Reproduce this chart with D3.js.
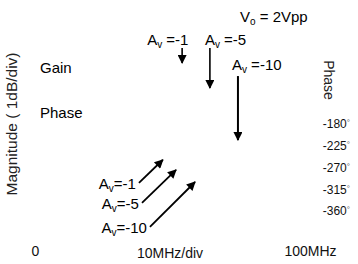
<!DOCTYPE html>
<html>
<head>
<meta charset="utf-8">
<script src="https://cdn.jsdelivr.net/npm/d3@7"></script>
<style>
  body { margin: 0; background: #fff; }
  svg { display: block; font-family: "Liberation Sans", Arial, sans-serif; }
  .axis text { fill: #111; }
</style>
</head>
<body>
<div id="chart"></div>
<script>
// tick values
const phaseTicks = [-180, -225, -270, -315, -360];
const freqTicks = [0, 100];
const freqTickLabels = ["0", "100MHz"];

// gain arrows (magnitude, dB) per closed-loop gain
const gainLabels = ["-1", "-5", "-10"];
const gainFreq = [53.5, 63.6, 73.8];
const gainFrom = [0, 0, -1.29];
const gainTo = [-0.74, -1.89, -4.28];

// phase arrows (degrees)
const phaseLabels = ["-1", "-5", "-10"];
const phaseFreqFrom = [37.8, 38.9, 41.8];
const phaseFreqTo = [46.5, 51.3, 58.2];
const phaseFrom = [-302, -343, -393];
const phaseTo = [-254, -275, -300];

const W = 358, H = 264;

const svg = d3.select("#chart").append("svg")
    .attr("width", W)
    .attr("height", H);

const x = d3.scaleLinear().domain([0, 100]).range([35, 310]);
const yPhase = d3.scaleLinear().domain([-360, -180]).range([211, 124]);
const yMag = d3.scaleLinear().domain([0, -1]).range([47, 68.75]);

svg.append("defs").append("marker")
    .attr("id", "head")
    .attr("viewBox", "0 0 10 10")
    .attr("refX", 9)
    .attr("refY", 5)
    .attr("markerUnits", "userSpaceOnUse")
    .attr("markerWidth", 12)
    .attr("markerHeight", 9)
    .attr("orient", "auto")
    .append("path")
    .attr("d", "M0,0 L10,5 L0,10 Z")
    .attr("fill", "#000");

// label with subscript, e.g. A_v =-5
function subLabel(sel, main, sub, rest) {
    sel.append("tspan").text(main);
    sel.append("tspan").attr("dy", 3).attr("font-size", 10).text(sub);
    sel.append("tspan").attr("dy", -3).text(rest);
}

// axes
const phaseAxis = svg.append("g")
    .attr("class", "axis")
    .attr("transform", "translate(350,0)")
    .call(d3.axisLeft(yPhase).tickValues(phaseTicks).tickSize(0).tickPadding(0));
phaseAxis.select(".domain").remove();
phaseAxis.attr("font-family", null).attr("font-size", 12);
// small raised degree sign
phaseAxis.selectAll(".tick text").each(function(d) {
    const t = d3.select(this).text(null);
    t.append("tspan").text(d);
    t.append("tspan").attr("dy", -3).attr("font-size", 8).attr("fill", "#555").text("°");
});

const freqAxis = svg.append("g")
    .attr("class", "axis")
    .attr("transform", "translate(0,246)")
    .call(d3.axisBottom(x).tickValues(freqTicks).tickSize(0).tickPadding(0)
        .tickFormat((d, i) => freqTickLabels[i]));
freqAxis.select(".domain").remove();
freqAxis.attr("font-family", null).attr("font-size", 14);

svg.append("text")
    .attr("x", 170)
    .attr("y", 258)
    .attr("text-anchor", "middle")
    .attr("font-size", 14)
    .attr("fill", "#111")
    .text("10MHz/div");

// axis titles
svg.append("text")
    .attr("transform", "translate(17,124) rotate(-90)")
    .attr("text-anchor", "middle")
    .attr("font-size", 15.5)
    .attr("fill", "#222")
    .text("Magnitude ( 1dB/div)");

svg.append("text")
    .attr("transform", "translate(324,80) rotate(90)")
    .attr("text-anchor", "middle")
    .attr("font-size", 14)
    .attr("fill", "#222")
    .text("Phase");

svg.append("text").attr("x", 40).attr("y", 73).attr("font-size", 15).text("Gain");
svg.append("text").attr("x", 40).attr("y", 118).attr("font-size", 15).text("Phase");

const vo = svg.append("text").attr("x", 240).attr("y", 22).attr("font-size", 15);
subLabel(vo, "V", "o", " = 2Vpp");

// gain arrows
const labelDx = [-35, -5, -6];
const labelY = [45, 45, 70];
gainLabels.forEach((g, i) => {
    svg.append("line")
        .attr("x1", x(gainFreq[i])).attr("x2", x(gainFreq[i]))
        .attr("y1", yMag(gainFrom[i]) + 1).attr("y2", yMag(gainTo[i]))
        .attr("stroke", "#000")
        .attr("stroke-width", i === 2 ? 2 : 1.6)
        .attr("marker-end", "url(#head)");
    const t = svg.append("text")
        .attr("x", x(gainFreq[i]) + labelDx[i])
        .attr("y", labelY[i])
        .attr("font-size", 15);
    subLabel(t, "A", "v", " =" + g);
});

// phase arrows
phaseLabels.forEach((g, i) => {
    const x1 = x(phaseFreqFrom[i]), y1 = yPhase(phaseFrom[i]);
    svg.append("line")
        .attr("x1", x1).attr("y1", y1)
        .attr("x2", x(phaseFreqTo[i])).attr("y2", yPhase(phaseTo[i]))
        .attr("stroke", "#000")
        .attr("stroke-width", 1.8)
        .attr("marker-end", "url(#head)");
    const t = svg.append("text")
        .attr("x", x1 - 3)
        .attr("y", y1 + 6)
        .attr("text-anchor", "end")
        .attr("font-size", 15);
    subLabel(t, "A", "v", "=" + g);
});
</script>
</body>
</html>
